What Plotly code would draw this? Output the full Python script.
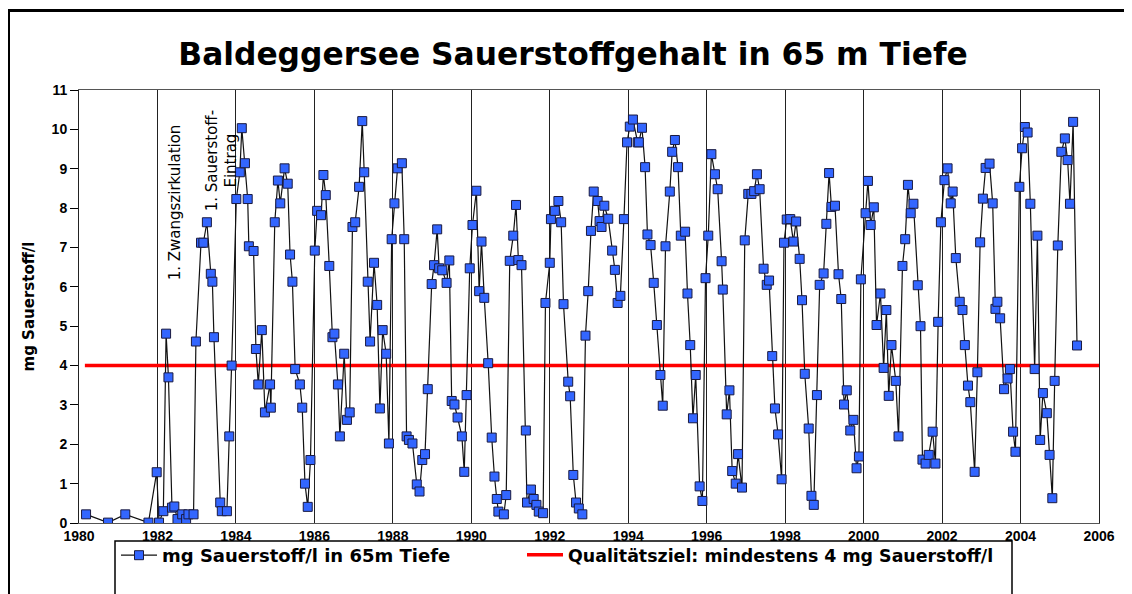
import plotly.graph_objects as go

# ---- data ----
years = [1980.18, 1980.74, 1981.18, 1981.77, 1981.98, 1982.04, 1982.15, 1982.22, 1982.28, 1982.37,
         1982.43, 1982.51, 1982.63, 1982.73, 1982.79, 1982.92, 1982.98, 1983.11, 1983.17, 1983.26,
         1983.36, 1983.40, 1983.44, 1983.60, 1983.64, 1983.77, 1983.83, 1983.89, 1984.01, 1984.10,
         1984.15, 1984.23, 1984.30, 1984.33, 1984.45, 1984.51, 1984.57, 1984.66, 1984.74, 1984.87,
         1984.89, 1984.99, 1985.07, 1985.13, 1985.24, 1985.32, 1985.38, 1985.44, 1985.51, 1985.63,
         1985.69, 1985.76, 1985.83, 1985.90, 1986.01, 1986.07, 1986.17, 1986.23, 1986.29, 1986.38,
         1986.46, 1986.51, 1986.60, 1986.65, 1986.76, 1986.83, 1986.90, 1986.97, 1987.04, 1987.14,
         1987.22, 1987.27, 1987.36, 1987.42, 1987.52, 1987.60, 1987.67, 1987.74, 1987.83, 1987.90,
         1987.97, 1988.04, 1988.12, 1988.23, 1988.29, 1988.35, 1988.41, 1988.50, 1988.61, 1988.68,
         1988.75, 1988.82, 1988.89, 1988.99, 1989.05, 1989.13, 1989.18, 1989.26, 1989.37, 1989.44,
         1989.50, 1989.57, 1989.65, 1989.76, 1989.82, 1989.88, 1989.96, 1990.03, 1990.13, 1990.20,
         1990.26, 1990.33, 1990.43, 1990.52, 1990.59, 1990.65, 1990.69, 1990.83, 1990.89, 1990.98,
         1991.07, 1991.14, 1991.20, 1991.28, 1991.39, 1991.42, 1991.52, 1991.59, 1991.66, 1991.72,
         1991.83, 1991.89, 1992.00, 1992.03, 1992.13, 1992.22, 1992.29, 1992.35, 1992.47, 1992.52,
         1992.60, 1992.67, 1992.74, 1992.83, 1992.91, 1992.98, 1993.05, 1993.12, 1993.22, 1993.27,
         1993.32, 1993.39, 1993.49, 1993.59, 1993.66, 1993.73, 1993.80, 1993.89, 1993.97, 1994.04,
         1994.12, 1994.24, 1994.27, 1994.35, 1994.43, 1994.49, 1994.57, 1994.65, 1994.73, 1994.82,
         1994.88, 1994.95, 1995.06, 1995.12, 1995.19, 1995.27, 1995.34, 1995.45, 1995.51, 1995.58,
         1995.65, 1995.72, 1995.82, 1995.89, 1995.97, 1996.04, 1996.12, 1996.21, 1996.28, 1996.38,
         1996.41, 1996.51, 1996.58, 1996.65, 1996.74, 1996.80, 1996.90, 1996.97, 1997.06, 1997.14,
         1997.21, 1997.28, 1997.35, 1997.45, 1997.53, 1997.59, 1997.67, 1997.74, 1997.82, 1997.91,
         1997.97, 1998.04, 1998.13, 1998.21, 1998.28, 1998.37, 1998.43, 1998.50, 1998.60, 1998.67,
         1998.73, 1998.81, 1998.88, 1998.98, 1999.05, 1999.12, 1999.18, 1999.27, 1999.36, 1999.43,
         1999.50, 1999.57, 1999.66, 1999.74, 1999.82, 1999.88, 1999.93, 2000.05, 2000.11, 2000.18,
         2000.26, 2000.33, 2000.43, 2000.51, 2000.58, 2000.64, 2000.71, 2000.82, 2000.89, 2000.99,
         2001.06, 2001.13, 2001.20, 2001.27, 2001.38, 2001.45, 2001.50, 2001.58, 2001.66, 2001.76,
         2001.83, 2001.90, 2001.97, 2002.06, 2002.14, 2002.22, 2002.27, 2002.35, 2002.45, 2002.52,
         2002.58, 2002.66, 2002.72, 2002.83, 2002.90, 2002.97, 2003.04, 2003.11, 2003.21, 2003.29,
         2003.36, 2003.41, 2003.48, 2003.58, 2003.67, 2003.73, 2003.81, 2003.87, 2003.97, 2004.04,
         2004.11, 2004.18, 2004.25, 2004.36, 2004.43, 2004.50, 2004.57, 2004.67, 2004.74, 2004.81,
         2004.87, 2004.95, 2005.04, 2005.13, 2005.20, 2005.26, 2005.34, 2005.44]

oxygen = [0.22, 0.01, 0.22, 0.01, 1.29, 0.01, 0.30, 4.81, 3.70, 0.39,
          0.42, 0.10, 0.22, 0.10, 0.22, 0.22, 4.61, 7.12, 7.12, 7.64,
          6.33, 6.13, 4.72, 0.52, 0.30, 0.30, 2.20, 4.00, 8.23, 8.91,
          10.03, 9.14, 8.23, 7.03, 6.91, 4.42, 3.52, 4.90, 2.81, 3.52,
          2.93, 7.64, 8.70, 8.12, 9.01, 8.62, 6.82, 6.13, 3.91, 3.52,
          2.93, 1.00, 0.41, 1.60, 6.92, 7.93, 7.82, 8.84, 8.33, 6.53,
          4.72, 4.81, 3.52, 2.20, 4.30, 2.62, 2.81, 7.52, 7.64, 8.54,
          10.21, 8.91, 6.13, 4.61, 6.61, 5.54, 2.91, 4.90, 4.30, 2.02,
          7.21, 8.12, 9.01, 9.14, 7.21, 2.20, 2.11, 2.02, 0.98, 0.80,
          1.60, 1.75, 3.40, 6.07, 6.55, 7.46, 6.47, 6.42, 6.10, 6.67,
          3.10, 3.01, 2.68, 2.20, 1.30, 3.25, 6.47, 7.57, 8.44, 5.89,
          7.15, 5.72, 4.06, 2.17, 1.18, 0.61, 0.29, 0.22, 0.71, 6.66,
          7.30, 8.08, 6.68, 6.55, 2.35, 0.52, 0.85, 0.61, 0.46, 0.29,
          0.25, 5.59, 6.61, 7.72, 7.93, 8.18, 7.64, 5.56, 3.59, 3.22,
          1.22, 0.52, 0.37, 0.22, 4.76, 5.89, 7.42, 8.42, 8.18, 7.67,
          7.52, 8.06, 7.73, 6.92, 6.43, 5.59, 5.77, 7.72, 9.67, 10.07,
          10.25, 9.67, 9.67, 10.04, 9.04, 7.33, 7.06, 6.10, 5.03, 3.76,
          2.98, 7.03, 8.42, 9.43, 9.73, 9.04, 7.30, 7.40, 5.83, 4.52,
          2.66, 3.76, 0.93, 0.56, 6.22, 7.30, 9.37, 8.86, 8.48, 6.65,
          5.93, 2.76, 3.37, 1.32, 1.00, 1.75, 0.90, 7.18, 8.36, 8.36,
          8.43, 8.86, 8.48, 6.46, 6.05, 6.16, 4.24, 2.91, 2.25, 1.11,
          7.12, 7.71, 7.72, 7.15, 7.66, 6.71, 5.66, 3.79, 2.40, 0.69,
          0.46, 3.25, 6.05, 6.34, 7.60, 8.89, 8.03, 8.06, 6.32, 5.69,
          3.01, 3.37, 2.35, 2.62, 1.39, 1.69, 6.19, 7.87, 8.69, 7.57,
          8.02, 5.03, 5.83, 3.94, 5.41, 3.23, 4.52, 3.61, 2.20, 6.53,
          7.21, 8.59, 7.87, 8.11, 6.04, 5.00, 1.61, 1.51, 1.73, 2.32,
          1.51, 5.11, 7.64, 8.71, 9.01, 8.12, 8.42, 6.73, 5.62, 5.41,
          4.52, 3.49, 3.07, 1.30, 3.83, 7.13, 8.24, 9.02, 9.13, 8.12,
          5.44, 5.62, 5.20, 3.40, 3.67, 3.91, 2.32, 1.81, 8.54, 9.52,
          10.06, 9.92, 8.11, 3.91, 7.30, 2.11, 3.30, 2.79, 1.73, 0.63,
          3.61, 7.05, 9.43, 9.77, 9.22, 8.11, 10.19, 4.51]

goal_x = [1980.15, 2006]
goal_y = [4, 4]

series_name = "mg Sauerstoff/l in 65m Tiefe"
goal_name = "Qualitätsziel: mindestens 4 mg Sauerstoff/l"
title_text = "Baldeggersee Sauerstoffgehalt in 65 m Tiefe"
y_title = "mg Sauerstoff/l"
x_ticks = list(range(1980, 2007, 2))
y_ticks = list(range(0, 12))

WIDE = "DejaVu Sans, Verdana, sans-serif"
ARIAL = "Liberation Sans, Arial, sans-serif"

fig = go.Figure()
fig.add_trace(go.Scatter(
    x=goal_x, y=goal_y, mode="lines", name=goal_name,
    line=dict(color="#FF0000", width=3.5), legend="legend2"))
fig.add_trace(go.Scatter(
    x=years, y=oxygen, mode="lines+markers", name=series_name,
    line=dict(color="#111111", width=1.2),
    marker=dict(symbol="square", size=9, color="#3366FF",
                line=dict(color="#1a1a40", width=1)),
    legend="legend"))

# page has an 8px body margin: positions below are in screen pixels
OFF = 8
W, H = 1132, 594
L, T = 79 - OFF, 90 - OFF
R = W - (1099 - OFF)
B = H - (523 - OFF)
pw, ph = W - L - R, H - T - B


def px_x(sx):
    return (sx - OFF - L) / pw


def px_y(sy):
    return (H - B - (sy - OFF)) / ph


fig.update_layout(
    width=W, height=H,
    margin=dict(l=L, r=R, t=T, b=B, autoexpand=False),
    paper_bgcolor="white", plot_bgcolor="white",
    title=dict(text=title_text, x=(573 - OFF) / W, xanchor="center",
               y=1 - (54 - OFF) / H, yanchor="middle", yref="container",
               font=dict(family=WIDE, size=31.3, color="black", weight="bold")),
    xaxis=dict(range=[1980, 2006], tickvals=x_ticks, showgrid=True,
               gridcolor="#222222", gridwidth=1, zeroline=False,
               showline=True, linecolor="#555555", linewidth=1, mirror=True,
               ticks="", ticklen=0,
               tickfont=dict(family=ARIAL, size=14, color="black", weight="bold")),
    yaxis=dict(range=[0, 11], tickvals=y_ticks, showgrid=False, zeroline=False,
               showline=True, linecolor="#222222", linewidth=1, mirror=True,
               ticks="outside", ticklen=8, tickcolor="black",
               tickfont=dict(family=ARIAL, size=14, color="black", weight="bold"),
               title=dict(text=y_title, standoff=13,
                          font=dict(family=WIDE, size=15, color="black", weight="bold"))),
    legend=dict(orientation="h", x=px_x(116), xanchor="left", y=px_y(537), yanchor="top",
                borderwidth=0, bgcolor="rgba(0,0,0,0)", itemwidth=36,
                font=dict(family=WIDE, size=18, color="black", weight="bold")),
    legend2=dict(orientation="h", x=px_x(522), xanchor="left", y=px_y(537), yanchor="top",
                 borderwidth=0, bgcolor="rgba(0,0,0,0)", itemwidth=36,
                 font=dict(family=WIDE, size=17.4, color="black", weight="bold")),
    showlegend=True,
    annotations=[
        dict(x=1982.45, y=8.15, xref="x", yref="y", text="1. Zwangszirkulation",
             textangle=-90, showarrow=False,
             font=dict(family=WIDE, size=15, color="black")),
        dict(x=1983.63, y=9.2, xref="x", yref="y", text="1. Sauerstoff-<br>Eintrag",
             textangle=-90, showarrow=False,
             font=dict(family=WIDE, size=15, color="black")),
    ],
    shapes=[
        dict(type="rect", xref="paper", yref="paper",
             x0=px_x(8.5), x1=px_x(1160), y0=px_y(640), y1=px_y(10.5),
             line=dict(color="black", width=3), fillcolor="rgba(0,0,0,0)", layer="above"),
        dict(type="rect", xref="paper", yref="paper",
             x0=px_x(115), x1=px_x(1012), y0=px_y(640), y1=px_y(541),
             line=dict(color="black", width=1.5), fillcolor="rgba(0,0,0,0)", layer="above"),
    ],
)

fig.write_html("out.html")
